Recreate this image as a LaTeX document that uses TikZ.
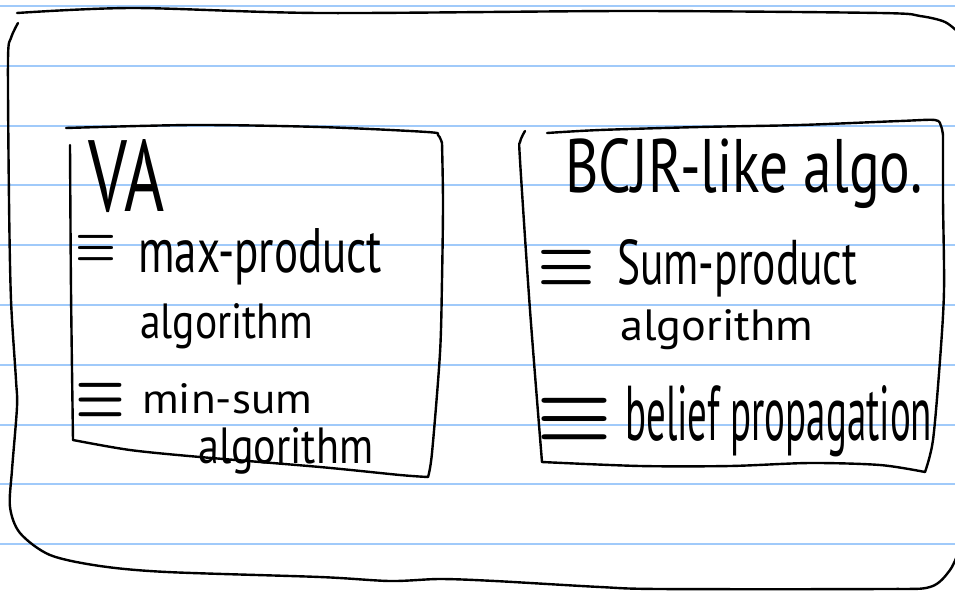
\documentclass[tikz,border=0pt]{standalone}
\usepackage{fontspec}
\setmainfont{PT Sans}
\definecolor{ruling}{RGB}{160,202,250}
\tikzset{
  ink/.style={line width=2.4pt, line cap=round, line join=round},
  hand/.style={inner sep=0pt, anchor=base west},
  eqmark/.style={inner sep=0pt, anchor=center},
  ruleline/.style={ruling, line width=2pt}
}
% text squeezed to a given width and height (in pt)
\newcommand\hw[3]{\resizebox{#1pt}{#2pt}{\fontsize{40}{48}\selectfont #3}}
\newcommand\eqv[2]{\resizebox{#1pt}{#2pt}{\boldmath$\equiv$}}

\begin{document}
\begin{tikzpicture}[x=1pt,y=-1pt]
\useasboundingbox (0,0) rectangle (955,592);
\clip (0,0) rectangle (955,592);
\fill[white] (0,0) rectangle (955,592);

% ruled paper
\foreach \i in {0,...,9}
  \draw[ruleline] (0,{6+59.8*\i}) -- (955,{6+59.8*\i});

% outer frame
\draw[ink] plot[smooth] coordinates {(17,13) (133,8) (320,13) (630,11) (880,13) (920,16) (945,22) (960,34)};
\draw[ink] plot[smooth] coordinates {(18,23) (11,38) (8,60) (9,200) (11,300) (16,380) (17,407) (12,470) (10,507) (20,533) (50,555) (100,566) (167,572) (320,577) (390,581) (440,579) (495,581) (600,587) (660,589) (880,589) (930,587) (950,570) (960,548)};

% left box
\draw[ink] plot[smooth] coordinates {(66,128) (193,125) (320,127) (427,132) (438,135) (442,143)};
\draw[ink] plot[smooth] coordinates {(442,143) (443,203) (442,280) (440,353) (432,453) (428,477)};
\draw[ink] plot[smooth] coordinates {(70,145) (71,290) (73,440)};
\draw[ink] plot[smooth] coordinates {(73,440) (130,450) (200,457) (320,467) (400,475) (428,477)};

% right box
\draw[ink] plot[smooth] coordinates {(525,131) (520,142) (520,160) (530,310) (542,462)};
\draw[ink] plot[smooth] coordinates {(547,133) (600,130) (700,127) (800,125) (900,121) (935,120) (941,126) (943,135)};
\draw[ink] plot[smooth] coordinates {(943,135) (943,200) (944,290) (940,360) (933,440) (925,472)};
\draw[ink] plot[smooth] coordinates {(542,462) (640,466) (730,466) (810,463) (880,465) (925,472)};

% left box text
\node[hand] (va) at (88,211) {\hw{76}{72}{VA}};
\node[eqmark] (e1) at (96,248) {\eqv{41}{25}};
\node[hand] (mp) at (138,272) {\hw{244}{44}{max-product}};
\node[hand] (al1) at (140,338) {\hw{173}{35}{algorithm}};
\node[eqmark] (e2) at (101,400) {\eqv{50}{33}};
\node[hand] (ms) at (142,413) {\hw{170}{30}{min-sum}};
\node[hand] (al2) at (198,463) {\hw{175}{36}{algorithm}};

% right box text
\node[hand] (bcjr) at (565,192) {\hw{357}{54}{BCJR-like algo.}};
\node[eqmark] (e3) at (567,268) {\eqv{58}{34}};
\node[hand] (sp) at (617,284) {\hw{240}{45}{Sum-product}};
\node[hand] (al3) at (620,340) {\hw{193}{31}{algorithm}};
\node[eqmark] (e4) at (575,419) {\eqv{76}{41}};
\node[hand] (bp) at (625,440) {\hw{307}{55}{belief propagation}};
\end{tikzpicture}
\end{document}
